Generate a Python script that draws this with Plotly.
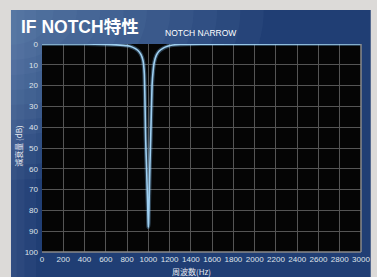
import plotly.graph_objects as go

# Data
freq_hz = [0, 400, 600, 700, 800, 850, 900, 930, 950, 962, 975, 985, 993, 998, 1000,
           1003, 1008, 1015, 1022, 1035, 1045, 1055, 1075, 1100, 1140, 1180, 1230, 1300, 1500, 3000]
atten_db = [0, 0, 0.2, 0.4, 0.8, 1.5, 3, 5, 8, 14, 46, 62, 76, 85, 88,
            86, 74, 58, 46, 20, 13, 9, 5.5, 3.5, 2, 1.1, 0.5, 0.2, 0.05, 0]

x_ticks = [0, 200, 400, 600, 800, 1000, 1200, 1400, 1600, 1800, 2000, 2200, 2400, 2600, 2800, 3000]
y_ticks = [0, 10, 20, 30, 40, 50, 60, 70, 80, 90, 100]

W, H = 377, 277
L, R, T, B = 42, 7, 44, 25
pw, ph = W - L - R, H - T - B

def px(xp):
    return (xp - L) / pw

def py(yp):
    return (H - B - yp) / ph

def rect(x0, y0, x1, y1, color):
    return dict(type="rect", xref="paper", yref="paper", x0=px(x0), x1=px(x1), y0=py(y1), y1=py(y0),
                fillcolor=color, line=dict(width=0), layer="below")

fig = go.Figure()
fig.add_trace(go.Scatter(x=freq_hz, y=atten_db, mode="lines",
                         line=dict(color="rgba(120,180,230,0.35)", width=4, shape="spline", smoothing=0.6),
                         cliponaxis=False, hoverinfo="skip", showlegend=False))
fig.add_trace(go.Scatter(x=freq_hz, y=atten_db, mode="lines",
                         line=dict(color="#9fd0f2", width=1.6, shape="spline", smoothing=0.6),
                         cliponaxis=False, showlegend=False))

shapes = [rect(10, 10, 380, 280, "#203e74")]
# soft radial glow from the top-left of the panel
for k in range(10):
    rx = 260 - k * 24
    ry = 170 - k * 15
    shapes.append(dict(type="circle", xref="paper", yref="paper",
                       x0=px(10 - rx), x1=px(10 + rx), y0=py(10 + ry), y1=py(10 - ry),
                       fillcolor="rgba(150,180,220,0.055)", line=dict(width=0), layer="below"))
# left-edge lighter band
for xw in (26, 14, 6):
    shapes.append(rect(10, 10, 10 + xw, 280, "rgba(150,180,220,0.05)"))
# grey page border around the panel
shapes.append(rect(-300, -300, 10, 400, "#dcdad8"))
shapes.append(rect(-300, -300, 500, 10, "#dcdad8"))
# black plot area
shapes.append(rect(L, T, W - R, H - B, "#050505"))
# plot border (bottom/right)
shapes.append(dict(type="line", xref="paper", yref="paper", x0=0, x1=1, y0=0, y1=0,
                   line=dict(color="#8a8a8a", width=1.5)))
shapes.append(dict(type="line", xref="paper", yref="paper", x0=1, x1=1, y0=0, y1=1,
                   line=dict(color="#8a8a8a", width=1.5)))

fig.update_layout(
    width=W, height=H,
    margin=dict(l=L, r=R, t=T, b=B),
    paper_bgcolor="#dcdad8",
    plot_bgcolor="#050505",
    shapes=shapes,
    font=dict(family="Liberation Sans, Arial, sans-serif", color="#e6e9f0", size=8),
    xaxis=dict(range=[0, 3000], tickvals=x_ticks, ticktext=[str(v) for v in x_ticks],
               showgrid=True, gridcolor="#555555", gridwidth=1, zeroline=False,
               ticks="", tickfont=dict(size=8, color="#dfe3ea"), ticklabelstandoff=1,
               ticklabeloverflow="allow", showline=False, fixedrange=True),
    yaxis=dict(range=[100, 0], tickvals=y_ticks, ticktext=[str(v) for v in y_ticks],
               showgrid=True, gridcolor="#555555", gridwidth=1, zeroline=False,
               ticks="", tickfont=dict(size=8, color="#dfe3ea"), ticklabelstandoff=3,
               ticklabeloverflow="allow", showline=False, fixedrange=True),
    annotations=[
        dict(text="<b>IF NOTCH特性</b>", xref="paper", yref="paper", x=px(18), y=py(27),
             xanchor="left", yanchor="middle", showarrow=False,
             font=dict(size=17.5, color="#ffffff", family="Liberation Sans, Noto Sans CJK JP, sans-serif")),
        dict(text="NOTCH NARROW", xref="paper", yref="paper", x=px(166), y=py(33),
             xanchor="left", yanchor="middle", showarrow=False,
             font=dict(size=8.5, color="#ffffff", family="Liberation Sans, Arial, sans-serif")),
        dict(text="減衰量 (dB)", xref="paper", yref="paper", x=px(17), y=py(146),
             xanchor="center", yanchor="middle", showarrow=False, textangle=-90,
             font=dict(size=8, color="#e6e9f0", family="Noto Sans CJK JP, sans-serif")),
        dict(text="周波数(Hz)", xref="paper", yref="paper", x=px(196), y=py(271),
             xanchor="center", yanchor="middle", showarrow=False,
             font=dict(size=8, color="#e6e9f0", family="Noto Sans CJK JP, sans-serif")),
    ],
)

fig.write_html("out.html", config={"displayModeBar": False},
               post_script="document.body.style.margin='0px';document.body.style.background='#dcdad8';")
